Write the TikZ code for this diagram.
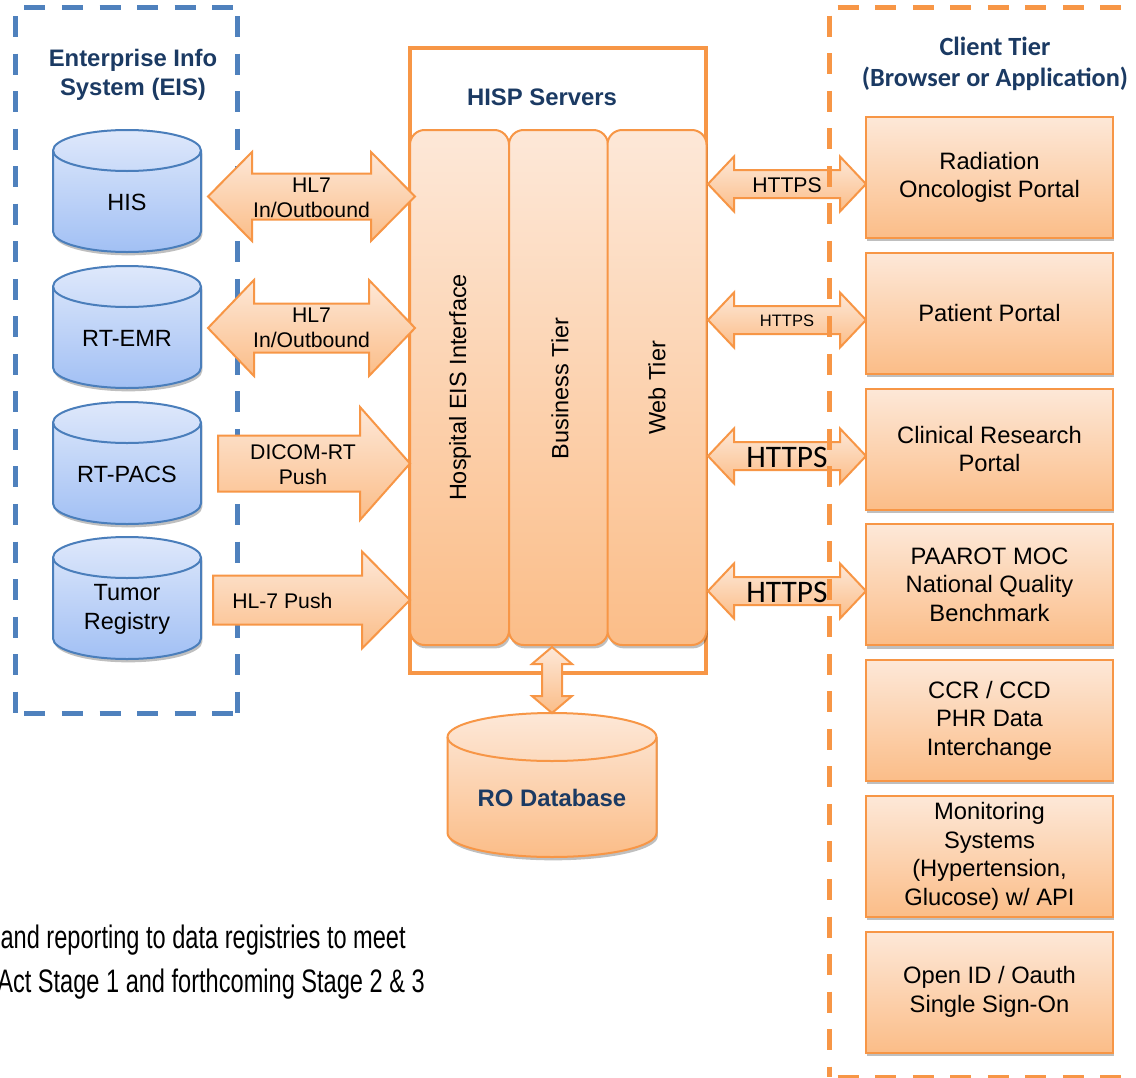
\documentclass[tikz,border=0pt]{standalone}
\usepackage{fontspec}
\setmainfont{Liberation Sans}
\newfontfamily\calfont{Carlito}
\newfontfamily\narrowfont[FakeStretch=0.725]{Liberation Sans}
\usetikzlibrary{shadows,calc}
\definecolor{navy}{HTML}{1B3A63}
\definecolor{eisblue}{HTML}{4F81BD}
\definecolor{cylblue}{HTML}{4A7EBB}
\definecolor{bluetop}{HTML}{DEE8FB}
\definecolor{bluebot}{HTML}{A2C0F4}
\definecolor{orng}{HTML}{F79646}
\definecolor{peachtop}{HTML}{FDE8D8}
\definecolor{peachbot}{HTML}{FBBD88}

% horizontal double block arrow: x1, x2, y, shaft half, head half, head length, style
\newcommand\hdbl[7]{\path[#7] (#1,#3) -- ({#1+#6},{#3+#5}) -- ({#1+#6},{#3+#4}) -- ({#2-#6},{#3+#4}) -- ({#2-#6},{#3+#5}) -- (#2,#3) -- ({#2-#6},{#3-#5}) -- ({#2-#6},{#3-#4}) -- ({#1+#6},{#3-#4}) -- ({#1+#6},{#3-#5}) -- cycle;}
% horizontal single block arrow: tail x, tip x, y, shaft half, head half, head length, style
\newcommand\hsgl[7]{\path[#7] (#1,{#3+#4}) -- ({#2-#6},{#3+#4}) -- ({#2-#6},{#3+#5}) -- (#2,#3) -- ({#2-#6},{#3-#5}) -- ({#2-#6},{#3-#4}) -- (#1,{#3-#4}) -- cycle;}
% vertical double block arrow: x, top y, bottom y, shaft half, head half, head length, style
\newcommand\vdbl[7]{\path[#7] (#1,#2) -- ({#1+#5},{#2-#6}) -- ({#1+#4},{#2-#6}) -- ({#1+#4},{#3+#6}) -- ({#1+#5},{#3+#6}) -- (#1,#3) -- ({#1-#5},{#3+#6}) -- ({#1-#4},{#3+#6}) -- ({#1-#4},{#2-#6}) -- ({#1-#5},{#2-#6}) -- cycle;}
% cylinder: cx, top, bottom (pixels down), rx, ry, fill style, line colour
\newcommand\cyl[7]{\path[#6] ({#1-#4},{-(#2+#5)}) -- ({#1-#4},{-(#3-#5)}) arc[start angle=180,end angle=360,x radius=#4,y radius=#5] -- ({#1+#4},{-(#2+#5)}) arc[start angle=0,end angle=180,x radius=#4,y radius=#5] -- cycle;
\draw[#7,line width=1.5pt] ({#1-#4},{-(#2+#5)}) arc[start angle=180,end angle=360,x radius=#4,y radius=#5];}
% dashed frame drawn side by side: x1, y1, x2, y2, colour
\newcommand\dashframe[5]{%
\draw[dashbox,#5] (#1,#2) -- (#3,#2);
\draw[dashbox,#5] (#1,#2) -- (#1,#4);
\draw[dashbox,#5] (#3,#2) -- (#3,#4);
\draw[dashbox,#5] (#1,#4) -- (#3,#4);}

\begin{document}
\begin{tikzpicture}[x=0.75pt,y=0.75pt,
  shad/.style={drop shadow={shadow xshift=1pt,shadow yshift=-2.5pt,opacity=0.25,fill=black}},
  bluecyl/.style={draw=cylblue,line width=1.5pt,top color=bluetop,bottom color=bluebot,shad},
  orngcyl/.style={draw=orng,line width=1.5pt,top color=peachtop,bottom color=peachbot,shad},
  blockarrow/.style={draw=orng,line width=1.5pt,line join=miter,top color=peachtop,bottom color=peachbot},
  colbox/.style={draw=orng,line width=1.5pt,rounded corners=11pt,top color=peachtop,bottom color=peachbot,
    minimum width=74.25pt,minimum height=386.25pt,inner sep=0,shad},
  cbox/.style={draw=orng,line width=1.5pt,top color=peachtop,bottom color=peachbot,
    minimum width=185.25pt,minimum height=90.75pt,inner sep=0,align=center,
    font=\fontsize{17.8}{21.4}\selectfont,shad},
  titletext/.style={font=\bfseries\fontsize{17.9}{21.75}\selectfont,text=navy,align=center,inner sep=0},
  bodytext/.style={font=\fontsize{17.6}{21.75}\selectfont,align=center,inner sep=0},
  arrtext/.style={font=\fontsize{15.9}{18.9}\selectfont,align=center,inner sep=0},
  dashbox/.style={line width=3.75pt,dash pattern=on 15.75pt off 12.4pt,dash phase=21.6pt}]
\useasboundingbox (0,0) rectangle (1136,-1078);
\clip (0,0) rectangle (1136,-1078);
\fill[white] (0,0) rectangle (1136,-1078);

% ---------- EIS (left) ----------
\dashframe{15.7}{-7.3}{237.7}{-713}{eisblue}
\node[titletext] (eistitle) at (133,-74.5) {Enterprise Info\\System (EIS)};

\cyl{127}{130}{252}{74}{20.5}{bluecyl}{cylblue}
\node[bodytext] (his) at (127,-202) {HIS};
\cyl{127}{266}{388}{74}{20.5}{bluecyl}{cylblue}
\node[bodytext] (emr) at (127,-338) {RT-EMR};
\cyl{127}{402}{524}{74}{20.5}{bluecyl}{cylblue}
\node[bodytext] (pacs) at (127,-474) {RT-PACS};
\cyl{127}{537}{659}{74}{20.5}{bluecyl}{cylblue}
\node[bodytext] (tumor) at (127,-609.5) {Tumor\\Registry};

% ---------- HISP servers ----------
\draw[orng,line width=3pt] (410,-48) rectangle (706,-673);
\node[titletext] (hisp) at (542,-97) {HISP Servers};
\node[colbox] (col1) at (459.5,-387.5) {};
\node[colbox] (col2) at (558.5,-387.5) {};
\node[colbox] (col3) at (657,-387.5) {};
\node[bodytext,rotate=90] (col1t) at (460,-387.5) {Hospital EIS Interface};
\node[bodytext,rotate=90] (col2t) at (560,-388.5) {Business Tier};
\node[bodytext,rotate=90] (col3t) at (657,-388) {Web Tier};

% ---------- RO database ----------
\cyl{552}{713}{857}{104.5}{24}{orngcyl}{orng}
\node[titletext] (rodb) at (552,-798) {RO Database};
\vdbl{552}{-647}{-713}{10}{20}{17}{blockarrow}

% ---------- left block arrows ----------
\hdbl{208}{415}{-196.5}{23}{44.5}{44}{blockarrow}
\node[arrtext] (hl7a) at (311.5,-197.5) {HL7\\In/Outbound};
\hdbl{208}{415}{-328}{24.5}{48}{46}{blockarrow}
\node[arrtext] (hl7b) at (311.5,-328) {HL7\\In/Outbound};
\hsgl{218}{410}{-463.5}{28}{56.5}{50}{blockarrow}
\node[arrtext] (dicom) at (303,-464.5) {DICOM-RT\\Push};
\hsgl{213}{410}{-600}{24.5}{48.5}{48}{blockarrow}
\node[arrtext,anchor=west] (hl7push) at (232,-601) {HL-7 Push};

% ---------- HTTPS arrows ----------
\hdbl{708}{866}{-184}{14}{27.5}{26}{blockarrow}
\node[arrtext] (https1) at (787,-185) {HTTPS};
\hdbl{708}{866}{-320}{14}{27.5}{26}{blockarrow}
\node[inner sep=0,font=\fontsize{12.4}{14}\selectfont] (https2) at (787,-320.5) {HTTPS};
\hdbl{708}{866}{-456}{14}{27.5}{26}{blockarrow}
\node[inner sep=0,font=\calfont\fontsize{23.5}{26}\selectfont] (https3) at (787,-457) {HTTPS};
\hdbl{708}{866}{-591}{14}{27.5}{26}{blockarrow}
\node[inner sep=0,font=\calfont\fontsize{23.5}{26}\selectfont] (https4) at (787,-592) {HTTPS};

% ---------- client tier ----------
\node[cbox] (c1) at (989.5,-177.5) {Radiation\\Oncologist Portal};
\node[cbox] (c2) at (989.5,-313.25) {Patient Portal};
\node[cbox] (c3) at (989.5,-449) {Clinical Research\\Portal};
\node[cbox] (c4) at (989.5,-584.75) {PAAROT MOC\\National Quality\\Benchmark};
\node[cbox] (c5) at (989.5,-720.5) {CCR / CCD\\PHR Data\\Interchange};
\node[cbox] (c6) at (989.5,-856.25) {Monitoring\\Systems\\(Hypertension,\\Glucose) w/ API};
\node[cbox] (c7) at (989.5,-992) {Open ID / Oauth\\Single Sign-On};
\node[inner sep=0,align=center,text=navy,font=\calfont\bfseries\fontsize{19.7}{23.25}\selectfont] (clienttitle) at (995,-64) {Client Tier\\(Browser or Application)};
\dashframe{829}{-7}{1160}{-1077}{orng}

% ---------- bottom note ----------
\node[anchor=base east,inner sep=0,font=\narrowfont\fontsize{24.4}{29}\selectfont] (note1) at (406,-948) {and reporting to data registries to meet};
\node[anchor=base east,inner sep=0,font=\narrowfont\fontsize{24.4}{29}\selectfont] (note2) at (425,-992) {Act Stage 1 and forthcoming Stage 2 \& 3};
\end{tikzpicture}
\end{document}
